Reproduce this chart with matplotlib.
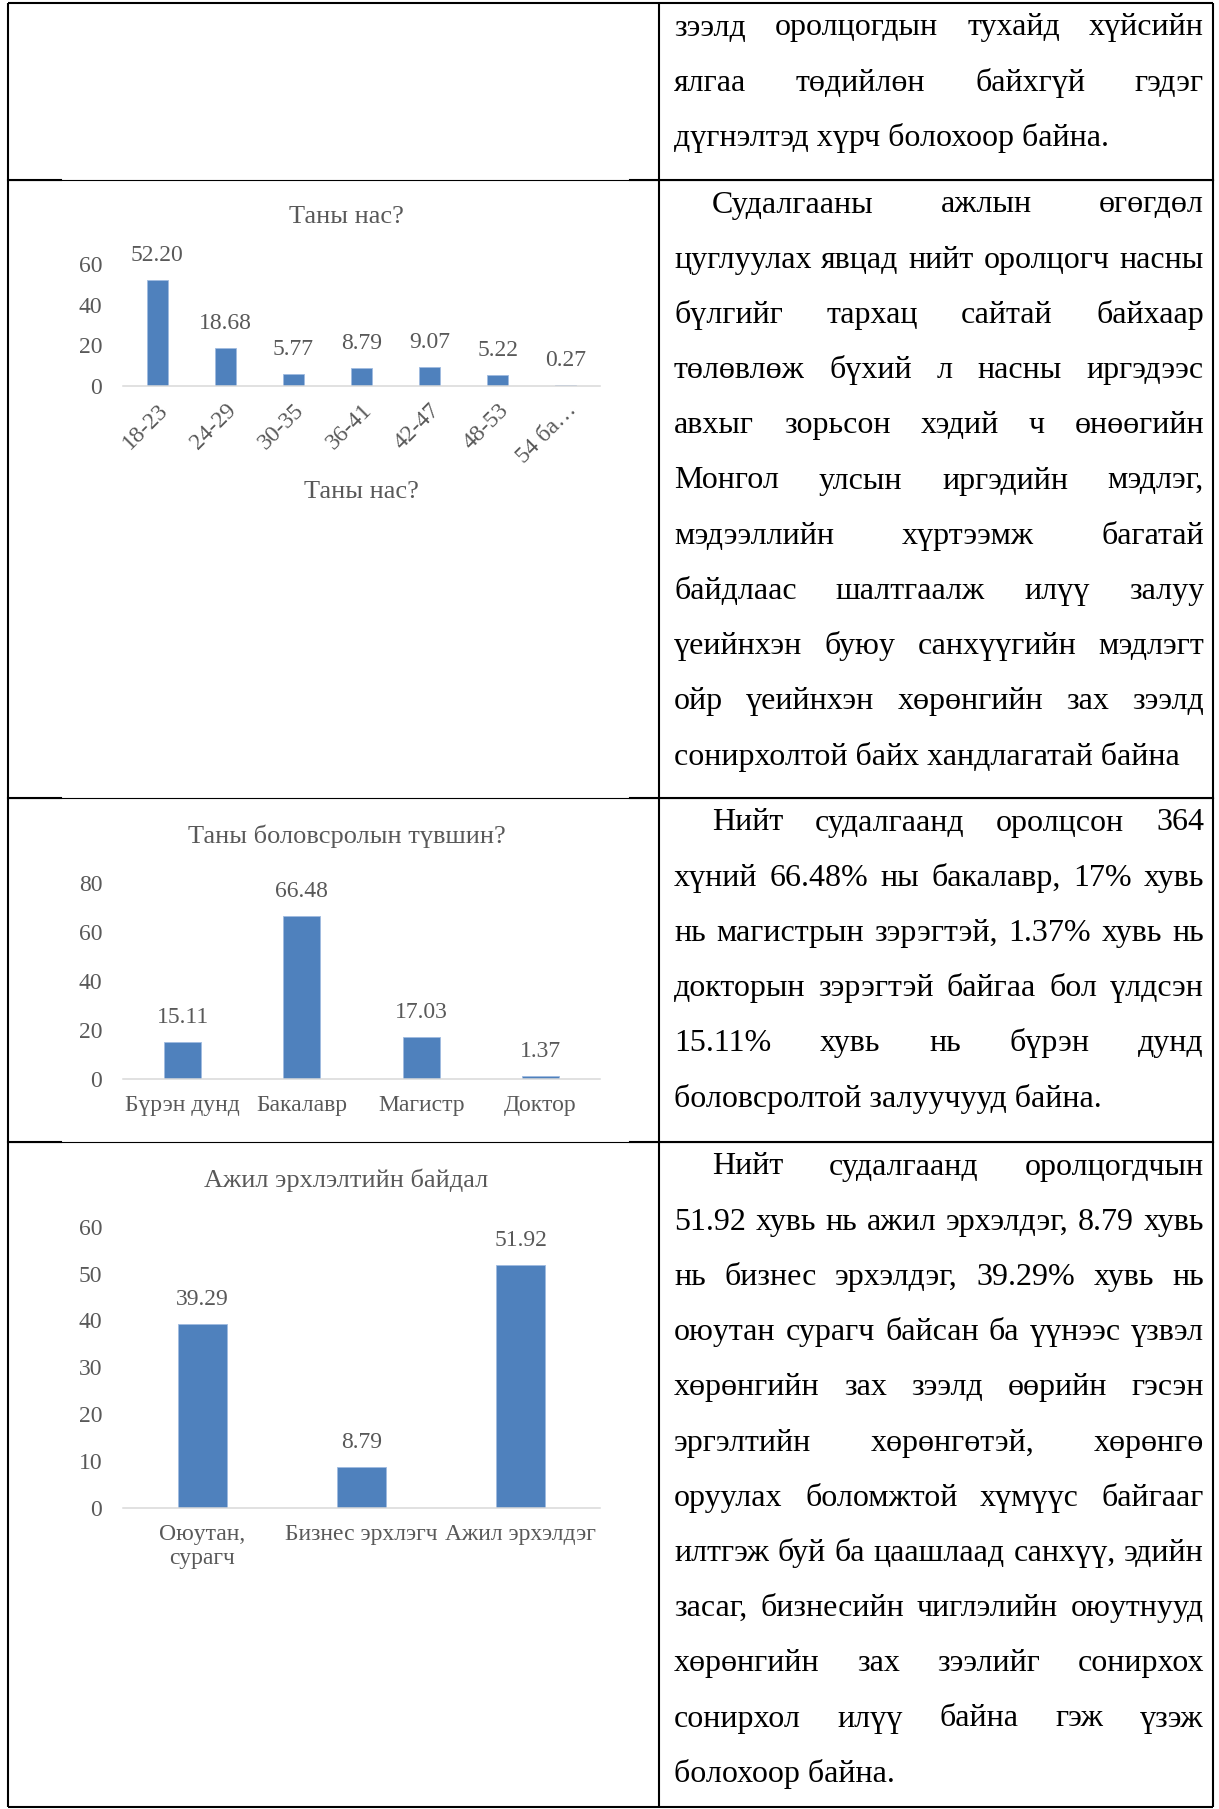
import numpy as np
import matplotlib
matplotlib.use("Agg")
import matplotlib.pyplot as plt

plt.rcParams["font.family"] = ["Liberation Serif", "DejaVu Serif"]

# survey results (percent of respondents)
age_groups = ["18-23", "24-29", "30-35", "36-41", "42-47", "48-53", "54 ба…"]
age_share = [52.20, 18.68, 5.77, 8.79, 9.07, 5.22, 0.27]

edu_levels = ["Бүрэн дунд", "Бакалавр", "Магистр", "Доктор"]
edu_share = [15.11, 66.48, 17.03, 1.37]

job_status = ["Оюутан,\nсурагч", "Бизнес эрхлэгч", "Ажил эрхэлдэг"]
job_share = [39.29, 8.79, 51.92]

# text column of the table, one list per row
row1_lines = [
    "зээлд оролцогдын тухайд хүйсийн",
    "ялгаа төдийлөн байхгүй гэдэг",
    "дүгнэлтэд хүрч болохоор байна.",
]
row2_lines = [
    "Судалгааны ажлын өгөгдөл",
    "цуглуулах явцад нийт оролцогч насны",
    "бүлгийг тархац сайтай байхаар",
    "төлөвлөж бүхий л насны иргэдээс",
    "авхыг зорьсон хэдий ч өнөөгийн",
    "Монгол улсын иргэдийн мэдлэг,",
    "мэдээллийн хүртээмж багатай",
    "байдлаас шалтгаалж илүү залуу",
    "үеийнхэн буюу санхүүгийн мэдлэгт",
    "ойр үеийнхэн хөрөнгийн зах зээлд",
    "сонирхолтой байх хандлагатай байна",
]
row3_lines = [
    "Нийт судалгаанд оролцсон 364",
    "хүний 66.48% ны бакалавр, 17% хувь",
    "нь магистрын зэрэгтэй, 1.37% хувь нь",
    "докторын зэрэгтэй байгаа бол үлдсэн",
    "15.11% хувь нь бүрэн дунд",
    "боловсролтой залуучууд байна.",
]
row4_lines = [
    "Нийт судалгаанд оролцогдчын",
    "51.92 хувь нь ажил эрхэлдэг, 8.79 хувь",
    "нь бизнес эрхэлдэг, 39.29% хувь нь",
    "оюутан сурагч байсан ба үүнээс үзвэл",
    "хөрөнгийн зах зээлд өөрийн гэсэн",
    "эргэлтийн хөрөнгөтэй, хөрөнгө",
    "оруулах боломжтой хүмүүс байгааг",
    "илтгэж буй ба цаашлаад санхүү, эдийн",
    "засаг, бизнесийн чиглэлийн оюутнууд",
    "хөрөнгийн зах зээлийг сонирхох",
    "сонирхол илүү байна гэж үзэж",
    "болохоор байна.",
]

W, H = 1219, 1809
BLUE = "#4F81BD"
GRAY = "#595959"

fig = plt.figure(figsize=(W / 100, H / 100), dpi=100)
page = fig.add_axes([0, 0, 1, 1])
page.set_xlim(0, W)
page.set_ylim(H, 0)
page.axis("off")
renderer = fig.canvas.get_renderer()

# table grid
LEFT, MID, RIGHT = 7.5, 659, 1213
TOP, BOTTOM = 3, 1807
row_lines = [180, 798, 1142]
for x in (LEFT, MID, RIGHT):
    page.plot([x, x], [TOP, BOTTOM], color="black", lw=1.5, solid_capstyle="butt")
for y in (TOP, BOTTOM):
    page.plot([LEFT, RIGHT], [y, y], color="black", lw=1.5, solid_capstyle="butt")
for y in row_lines:
    page.plot([LEFT, RIGHT], [y, y], color="black", lw=0.8)
    page.plot([LEFT, 61], [y, y], color="black", lw=1.5)
    page.plot([630, RIGHT], [y, y], color="black", lw=1.5)

# justified paragraphs in the right column
TEXT_L, TEXT_R, INDENT = 674, 1204, 38
STEP = 55.2
BODY = dict(fontsize=23, color="black", va="baseline", ha="left")


def paragraph(lines, row_top, indent):
    for i, line in enumerate(lines):
        y = row_top + 25.5 + i * STEP + 7
        x0 = TEXT_L + (INDENT if (indent and i == 0) else 0)
        words = line.split()
        if i == len(lines) - 1 or len(words) < 2:
            page.text(x0, y, line, **BODY)
            continue
        arts = [page.text(0, y, w, **BODY) for w in words]
        widths = [a.get_window_extent(renderer=renderer).width for a in arts]
        gap = (TEXT_R - x0 - sum(widths)) / (len(words) - 1)
        x = x0
        for a, w in zip(arts, widths):
            a.set_x(x)
            x += w + gap


paragraph(row1_lines, TOP, False)
paragraph(row2_lines, row_lines[0], True)
paragraph(row3_lines, row_lines[1], True)
paragraph(row4_lines, row_lines[2], True)


def px_rect(x0, y0, x1, y1):
    return [x0 / W, 1 - y1 / H, (x1 - x0) / W, (y1 - y0) / H]


def bar_chart(rect, cats, vals, ymax, step, title, title_y):
    ax = fig.add_axes(px_rect(*rect))
    ax.set_facecolor("none")
    pos = np.arange(len(cats))
    ax.bar(pos, vals, width=0.31, color=BLUE, edgecolor="#9FBBE0", linewidth=0.6)
    ax.set_xlim(-0.5, len(cats) - 0.5)
    ax.set_ylim(0, ymax)
    ax.set_yticks(np.arange(0, ymax + 1, step))
    ax.set_xticks(pos)
    ax.set_xticklabels(cats)
    for s in ("top", "right", "left"):
        ax.spines[s].set_visible(False)
    ax.spines["bottom"].set_color("#D9D9D9")
    ax.spines["bottom"].set_linewidth(1.1)
    ax.tick_params(length=0, colors=GRAY, labelsize=17)
    ax.tick_params(axis="y", pad=15)
    ax.tick_params(axis="x", pad=11.5)
    for p, v in zip(pos, vals):
        ax.annotate(f"{v:.2f}", (p, v), xytext=(0, 17.6), textcoords="offset points",
                    ha="center", va="center", fontsize=17, color=GRAY)
    page.text(346.5, title_y, title, fontsize=19, color=GRAY, ha="center", va="center")
    return ax


ax1 = bar_chart((123, 264.3, 600, 385.7), age_groups, age_share, 60, 20, "Таны нас?", 217)
ax1.tick_params(axis="x", pad=10)
for lab in ax1.get_xticklabels():
    lab.set_rotation(45)
    lab.set_ha("right")
    lab.set_rotation_mode("anchor")
page.text(361.5, 492, "Таны нас?", fontsize=19, color=GRAY, ha="center", va="center")

bar_chart((123, 883, 600, 1079), edu_levels, edu_share, 80, 20,
          "Таны боловсролын түвшин?", 836.7)

bar_chart((123, 1226.7, 600, 1508), job_status, job_share, 60, 10,
          "Ажил эрхлэлтийн байдал", 1180)

fig.savefig("out.png", dpi=100)
